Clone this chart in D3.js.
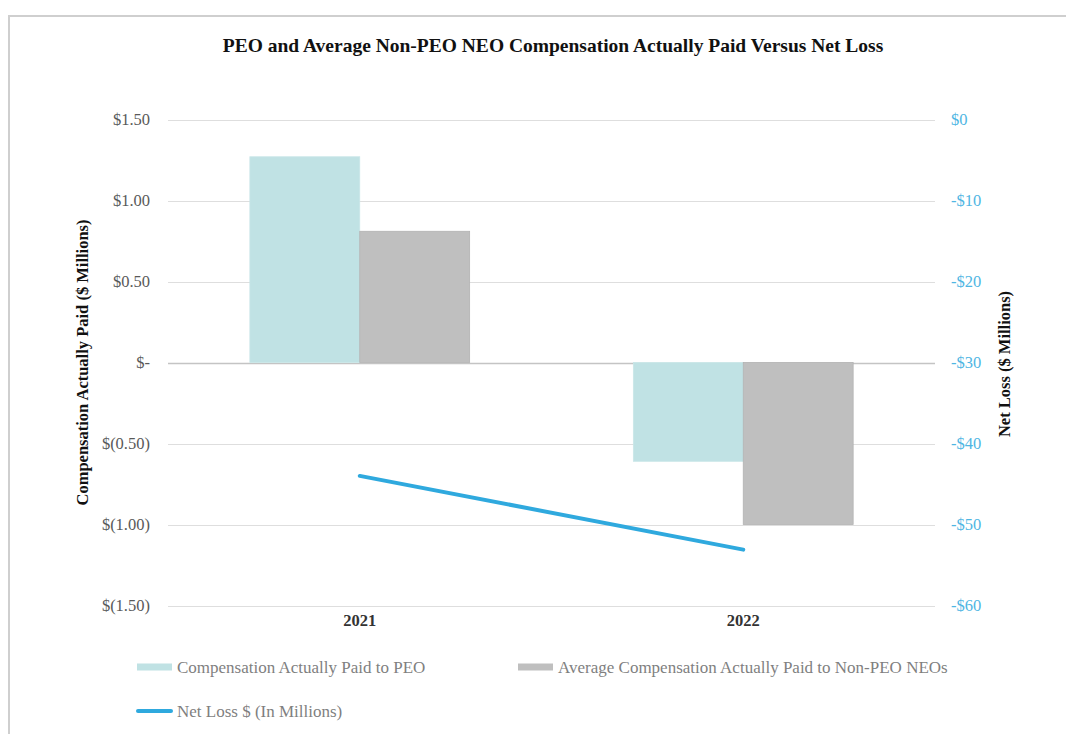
<!DOCTYPE html>
<html>
<head>
<meta charset="utf-8">
<script src="https://cdn.jsdelivr.net/npm/d3@7"></script>
<style>
  html, body { margin: 0; padding: 0; background: #fff; }
  svg { display: block; font-family: 'Liberation Serif', 'Times New Roman', serif; }
</style>
</head>
<body>
<svg width="1066" height="734"></svg>
<script>
// input data
const years = ['2021', '2022'];
const seriesNames = ['Compensation Actually Paid to PEO', 'Average Compensation Actually Paid to Non-PEO NEOs'];
const peoPaid = [1.27, -0.61]; // $ millions
const neoPaid = [0.81, -1.0]; // $ millions
const netLoss = [-44.0, -53.1]; // $ millions
const leftTicks = [-1.5, -1.0, -0.5, 0, 0.5, 1.0, 1.5];
const rightTicks = [-60, -50, -40, -30, -20, -10, 0];

const colors = {
  peo: '#c0e2e4',
  neo: '#bfbfbf',
  line: '#2fa9de',
  rightText: '#4fb6e3',
};

const serif = "'Liberation Serif', 'Times New Roman', serif";
const svg = d3.select('svg');

// outer frame (runs past the right/bottom edge in the reference)
svg.append('rect')
  .attr('x', 9).attr('y', 16)
  .attr('width', 1066).attr('height', 740)
  .attr('fill', 'none')
  .attr('stroke', '#cfcfcf')
  .attr('stroke-width', 2);

// plot area
const plot = { left: 168, right: 935, top: 119.5, bottom: 605.5 };

const x0 = d3.scaleBand().domain(years).range([plot.left, plot.right]).padding(0);
const x1 = d3.scaleBand().domain(['peo', 'neo']).range([0, x0.bandwidth()])
  .paddingInner(0).paddingOuter(0.745);
const yLeft = d3.scaleLinear().domain([-1.5, 1.5]).range([plot.bottom, plot.top]);
const yRight = d3.scaleLinear().domain([-60, 0]).range([plot.bottom, plot.top]);

// title
svg.append('text')
  .attr('x', 553).attr('y', 52)
  .attr('text-anchor', 'middle')
  .attr('font-size', 19.5)
  .attr('font-weight', 'bold')
  .attr('fill', '#111')
  .text('PEO and Average Non-PEO NEO Compensation Actually Paid Versus Net Loss');

// gridlines
svg.append('g')
  .selectAll('line')
  .data(leftTicks)
  .join('line')
  .attr('x1', plot.left).attr('x2', plot.right)
  .attr('y1', d => Math.round(yLeft(d)) + 0.5)
  .attr('y2', d => Math.round(yLeft(d)) + 0.5)
  .attr('stroke', d => (d === 0 ? '#c4c4c4' : '#dedede'))
  .attr('stroke-width', d => (d === 0 ? 1.5 : 1.2));

// left axis
const fmtLeft = d => {
  if (d === 0) return '$-';
  const s = d3.format('.2f')(Math.abs(d));
  return d < 0 ? `$(${s})` : `$${s}`;
};
const axisL = svg.append('g')
  .attr('transform', `translate(${plot.left - 15},0)`)
  .call(d3.axisLeft(yLeft).tickValues(leftTicks).tickSize(0).tickFormat(fmtLeft));
axisL.select('.domain').remove();
axisL.attr('font-family', serif);
axisL.selectAll('text')
  .attr('font-size', 16.5)
  .attr('fill', '#595959');

// right axis
const fmtRight = d => (d === 0 ? '$0' : `-$${Math.abs(d)}`);
const axisR = svg.append('g')
  .attr('transform', `translate(${plot.right + 13},0)`)
  .call(d3.axisRight(yRight).tickValues(rightTicks).tickSize(0).tickFormat(fmtRight));
axisR.select('.domain').remove();
axisR.attr('font-family', serif);
axisR.selectAll('text')
  .attr('font-size', 16.5)
  .attr('fill', colors.rightText);

// axis titles
svg.append('text')
  .attr('transform', `translate(88 ${(plot.top + plot.bottom) / 2}) rotate(-90)`)
  .attr('text-anchor', 'middle')
  .attr('font-size', 16.5)
  .attr('font-weight', 'bold')
  .attr('fill', '#111')
  .text('Compensation Actually Paid ($ Millions)');

svg.append('text')
  .attr('transform', `translate(1010 364) rotate(-90)`)
  .attr('text-anchor', 'middle')
  .attr('font-size', 16.5)
  .attr('font-weight', 'bold')
  .attr('fill', '#111')
  .text('Net Loss ($ Millions)');

// bars
const barData = years.map((year, i) => ({
  year,
  values: [
    { key: 'peo', value: peoPaid[i] },
    { key: 'neo', value: neoPaid[i] },
  ],
}));

const groups = svg.append('g')
  .selectAll('g')
  .data(barData)
  .join('g')
  .attr('transform', d => `translate(${x0(d.year)},0)`);

groups.selectAll('rect')
  .data(d => d.values)
  .join('rect')
  .attr('x', d => x1(d.key))
  .attr('width', x1.bandwidth())
  .attr('y', d => yLeft(Math.max(0, d.value)))
  .attr('height', d => Math.abs(yLeft(d.value) - yLeft(0)))
  .attr('fill', d => colors[d.key])
  .attr('stroke', d => (d.key === 'neo' ? '#b2b2b2' : '#c9e6e8'))
  .attr('stroke-width', 0.8);

// x labels
svg.append('g')
  .selectAll('text')
  .data(years)
  .join('text')
  .attr('x', d => x0(d) + x0.bandwidth() / 2)
  .attr('y', 626)
  .attr('text-anchor', 'middle')
  .attr('font-size', 16.5)
  .attr('font-weight', 'bold')
  .attr('fill', '#333')
  .text(d => d);

// net loss line
const line = d3.line()
  .x((d, i) => x0(years[i]) + x0.bandwidth() / 2)
  .y(d => yRight(d));

svg.append('path')
  .datum(netLoss)
  .attr('d', line)
  .attr('fill', 'none')
  .attr('stroke', colors.line)
  .attr('stroke-width', 4)
  .attr('stroke-linecap', 'round');

// legend
const legend = svg.append('g').attr('font-size', 17).attr('fill', '#7f7f7f');

const legendItems = [
  { label: seriesNames[0], x: 137, y: 667, type: 'rect', color: colors.peo },
  { label: seriesNames[1], x: 518, y: 667, type: 'rect', color: colors.neo },
  { label: 'Net Loss $ (In Millions)', x: 137, y: 711, type: 'line', color: colors.line },
];

legendItems.forEach(item => {
  if (item.type === 'rect') {
    legend.append('rect')
      .attr('x', item.x).attr('y', item.y - 3.5)
      .attr('width', 35).attr('height', 7)
      .attr('fill', item.color);
  } else {
    legend.append('line')
      .attr('x1', item.x + 1).attr('x2', item.x + 34)
      .attr('y1', item.y).attr('y2', item.y)
      .attr('stroke', item.color)
      .attr('stroke-width', 4)
      .attr('stroke-linecap', 'round');
  }
  legend.append('text')
    .attr('x', item.x + 40)
    .attr('y', item.y + 5.5)
    .text(item.label);
});
</script>
</body>
</html>
